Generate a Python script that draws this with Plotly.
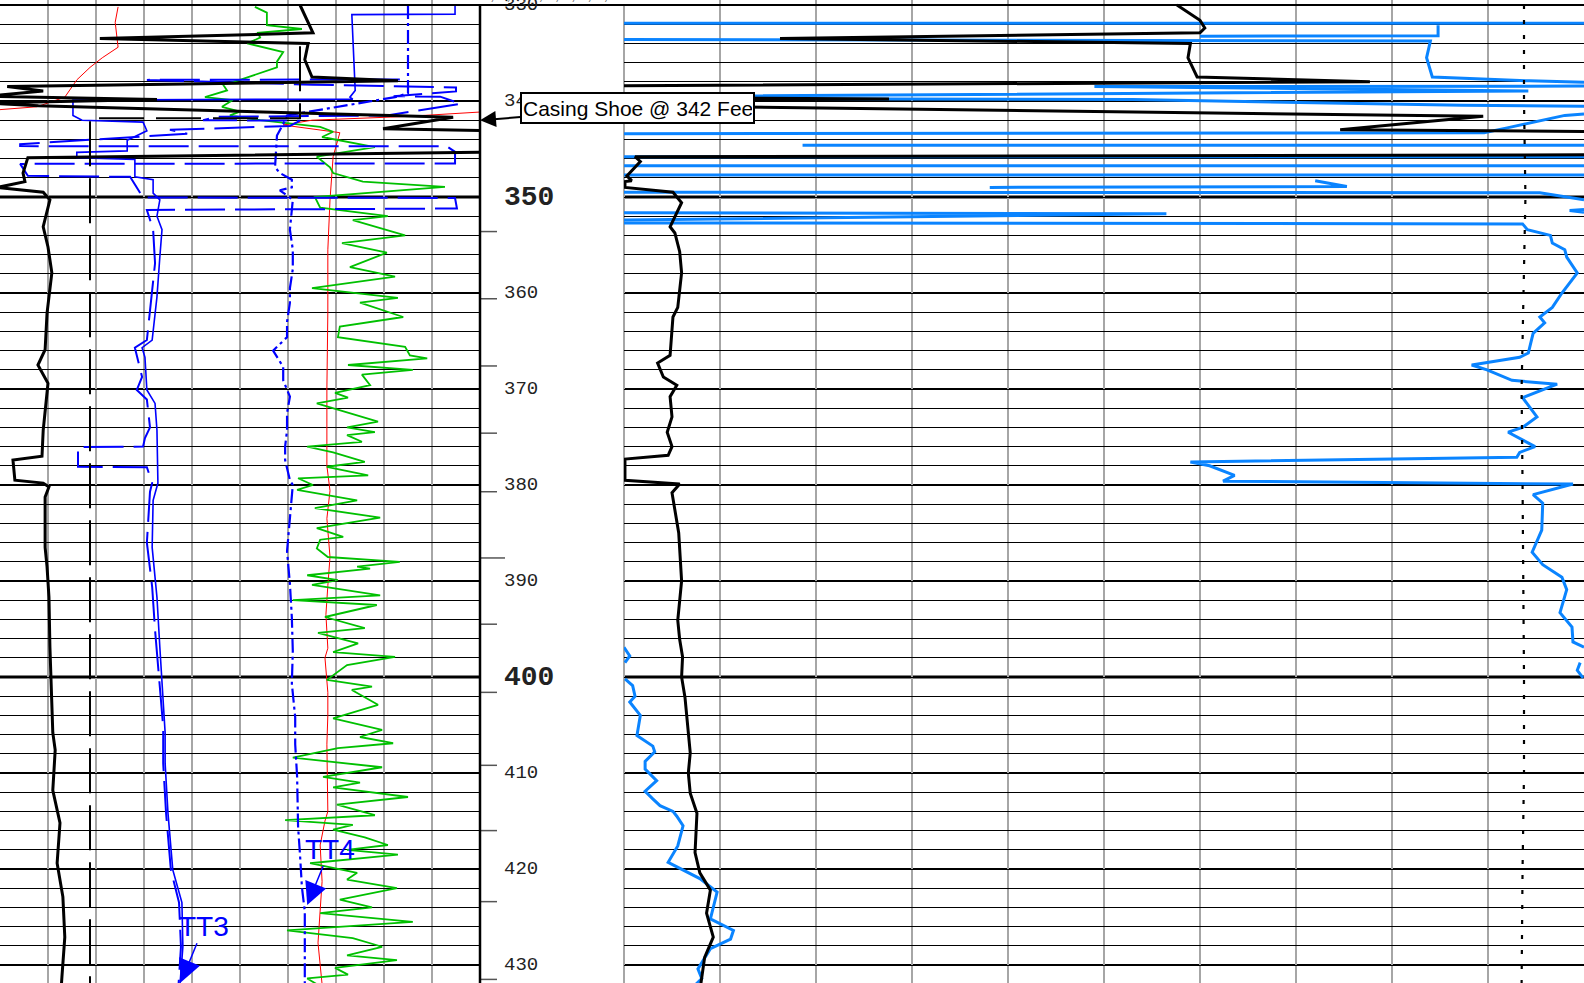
import plotly.graph_objects as go

# ---------------- depth track ----------------
DEPTH_LABELS = [330, 340, 350, 360, 370, 380, 390, 400, 410, 420, 430]
MAJOR_LABELS = [350, 400]
DEPTH_TICKS = [353.6, 360.6, 367.6, 374.6, 380.7, 387.6, 394.5, 401.6, 409.2, 416.0, 423.4, 431.5]
LONG_TICK = 387.6
CASING_SHOE_DEPTH = 342

# ---------------- left track (values in track divisions 0-10) ----------------
CAL_D = [330.0, 332.9, 333.5, 334.0, 335.7, 337.5, 337.9, 338.5, 338.96, 339.5, 339.85, 340.2, 340.5,
         341.7, 342.9, 343.1, 345.3, 345.9, 347.5, 348.4, 349.0, 349.5, 350.3, 353.1, 355.2, 357.9,
         362.1, 365.9, 367.5, 369.4, 374.3, 377.0, 377.4, 379.5, 379.8, 380.2, 381.25, 386.5, 388.5,
         391.7, 396.9, 402.1, 405.8, 407.6, 411.8, 415.2, 419.4, 422.9, 427.1, 431.25, 432.0]
CAL_V = [6.25, 6.52, 2.08, 6.42, 6.35, 6.5, 8.29, 0.15, 0.9, -0.3, 3.27, -0.3, 0.8,
         9.44, 7.98, 10.5, 10.5, 0.58, 0.48, 0.52, -0.05, 0.9, 1.04, 0.9, 1.0, 1.08,
         0.98, 0.94, 0.79, 1.0, 0.9, 0.875, 0.27, 0.31, 0.9, 1.02, 0.94, 0.94, 0.98,
         1.02, 1.04, 1.08, 1.1, 1.15, 1.1, 1.25, 1.19, 1.31, 1.35, 1.29, 1.28]

BIT_D = [334.3, 341.8, 341.8, 432.0]
BIT_V = [6.25, 6.25, 1.875, 1.875]

RED_D = [330.2, 331.8, 334.4, 335.5, 336.5, 337.8, 339.6, 340.6, 340.9, None,
         341.15, 341.6, 342.0, 342.5, 343.3, 345.8, 350.3, 355.5, 362.0, 370.0, 378.0, 380.6,
         383.5, 384.5, 387.5, 390.5, 393.5, 397.0, 398.0, 401.6, 404.0, 407.0, 411.5, 414.0,
         415.0, 417.5, 421.3, 424.0, 427.7, 432.0]
RED_V = [2.46, 2.40, 2.46, 2.13, 1.875, 1.6, 1.35, 0.77, 0.0, None,
         10.0, 8.5, 6.5, 5.9, 7.08, 6.94, 6.875, 6.83, 6.83, 6.81, 6.81, 6.875,
         6.81, 6.83, 6.875, 6.83, 6.79, 6.83, 6.77, 6.83, 6.83, 6.81, 6.83, 6.83,
         6.77, 6.67, 6.71, 6.67, 6.625, 6.71]

GR_D = [330.2, 330.8, 332.1, 332.5, 332.9, 333.4, 334.0, 334.9, 335.9, 336.5, 337.8, 338.3, 338.9,
        339.6, 339.9, 340.6, 341.1, 341.5, 342.0, 342.7, 343.2, 343.75, 344.8, 345.8, 346.9, 347.5,
        348.4, 348.95, 350.0, 351.1, 352.0, 352.4, 354.0, 354.8, 355.8, 357.3, 358.3, 359.5, 360.5,
        361.0, 362.5, 363.5, 364.6, 365.6, 366.5, 366.8, 367.5, 368.0, 368.5, 369.6, 370.4, 370.9,
        371.5, 373.4, 374.0, 374.5, 374.8, 375.5, 376.0, 376.6, 377.6, 378.1, 379.0, 379.3, 380.0,
        380.5, 381.6, 382.4, 383.4, 384.5, 385.4, 385.7, 386.6, 387.5, 388.0, 388.5, 388.7, 389.4,
        389.9, 390.4, 391.5, 392.0, 392.5, 393.75, 394.9, 395.4, 396.5, 397.4, 397.9, 398.75, 400.3,
        401.0, 401.35, 402.9, 404.3, 405.5, 406.25, 406.9, 407.4, 408.4, 409.4, 410.4, 411.0, 411.5,
        412.5, 413.3, 414.4, 414.9, 415.4, 415.9, 416.7, 417.5, 418.0, 418.5, 419.4, 420.4, 421.1,
        422.0, 423.2, 424.0, 424.6, 425.5, 426.4, 427.2, 428.1, 429.0, 429.5, 430.3, 431.0, 431.4, 432.0]
GR_V = [5.31, 5.56, 5.56, 6.29, 5.375, 5.42, 5.15, 5.9, 5.77, 5.77, 5.0, 4.65, 4.73,
        4.27, 4.85, 4.625, 5.0, 4.79, 5.42, 6.67, 6.94, 6.71, 7.81, 6.6, 6.875, 6.94,
        7.56, 9.27, 6.56, 6.67, 8.08, 7.35, 8.44, 7.125, 8.06, 7.29, 8.23, 6.5, 8.29,
        7.5, 8.4, 7.08, 7.04, 8.44, 8.54, 8.9, 7.25, 8.6, 7.54, 7.71, 6.98, 7.25,
        6.6, 7.875, 7.23, 7.81, 7.23, 7.54, 6.4, 6.94, 7.6, 6.81, 7.67, 6.21, 6.52,
        6.19, 7.44, 6.56, 7.92, 6.6, 7.15, 6.67, 6.6, 6.83, 8.33, 7.44, 7.71, 6.4,
        7.04, 6.5, 7.92, 6.1, 7.85, 6.77, 7.6, 6.625, 7.46, 6.94, 8.23, 7.23, 6.81,
        7.75, 7.33, 7.875, 6.94, 7.96, 7.5, 8.19, 7.04, 6.1, 7.96, 6.73, 7.5, 6.94,
        8.5, 7.02, 7.81, 5.94, 7.35, 6.94, 7.6, 8.08, 7.23, 8.29, 6.46, 7.44, 7.23,
        8.27, 7.08, 7.75, 6.67, 8.6, 5.98, 7.35, 7.96, 7.23, 8.27, 6.98, 7.25, 6.4, 6.6]

TT3_D = [330.0, 330.95, 331.0, 338.9, 339.6, 339.8, 339.9, 341.5, 342.0, 342.2, 343.1, 344.1, 345.2,
         345.35, 345.9, 346.1, 347.9, 348.2, 349.6, 350.3, 352.0, 353.4, 356.25, 360.4, 364.9, 365.7,
         366.7, 370.1, 371.5, 374.3, 379.8, 381.6, 386.5, 391.7, 396.9, 402.1, 405.8, 409.0, 414.2,
         420.1, 423.5, 428.1, 432.0]
TT3_V = [9.48, 9.48, 7.33, 7.4, 7.29, 7.35, 1.52, 1.52, 1.71, 2.98, 3.06, 2.65, 2.65,
         1.6, 1.6, 2.81, 2.81, 3.19, 3.19, 3.33, 3.27, 3.375, 3.33, 3.27, 3.17, 2.96,
         3.02, 3.06, 3.23, 3.27, 3.29, 3.19, 3.17, 3.27, 3.33, 3.4, 3.44, 3.44, 3.5,
         3.6, 3.79, 3.81, 3.75]

TT3B_D = [337.75, 337.8, 338.3, 338.6, 339.0, 339.5, 339.55, 340.3, 341.5, 341.65, 342.0, 342.05,
          342.6, 343.0, 343.4, 344.5, 344.7, 344.72, 345.3, 346.5, 346.55, 347.8, 347.9, 349.5,
          350.05, 350.1, 351.2, 351.35, 352.5, 353.4, 356.9, 362.1, 364.9, 365.7, 368.75, 370.1,
          371.1, 374.0, 375.1, 376.0, 376.05, 378.1, 378.15, 379.8, 380.7, 386.0, 390.6, 395.1,
          400.3, 405.2, 409.0, 414.2, 420.1, 423.5, 428.1, 432.0]
TT3B_V = [8.33, 3.06, 6.52, 9.5, 9.5, 8.2, 9.17, 9.6, 8.06, 4.52, 4.23, 6.25,
          6.04, 3.54, 3.9, 0.42, 0.42, 9.31, 9.48, 9.48, 0.42, 0.58, 2.71, 2.92,
          2.98, 9.48, 9.52, 3.06, 3.125, 3.19, 3.23, 3.125, 3.06, 2.81, 2.96, 2.85,
          3.06, 3.125, 3.02, 2.98, 1.625, 1.625, 3.06, 3.17, 3.125, 3.06, 3.17, 3.23,
          3.31, 3.4, 3.4, 3.46, 3.56, 3.73, 3.77, 3.72]

TT4_D = [330.0, 339.2, 339.6, 341.5, 342.4, 343.6, 346.9, 347.5, 348.2, 349.0, 349.3, 350.3,
         353.4, 355.5, 357.5, 359.5, 361.0, 363.0, 364.6, 366.0, 367.7, 369.1, 370.8, 372.5,
         374.3, 376.0, 377.4, 379.5, 380.0, 383.4, 386.9, 390.3, 393.8, 397.3, 400.7, 404.2,
         407.0, 410.4, 415.6, 418.5, 421.9, 424.4, 427.1, 430.6, 432.0]
TT4_V = [8.5, 8.5, 8.23, 5.98, 5.9, 5.77, 5.73, 5.83, 6.08, 6.08, 5.83, 6.1,
         6.04, 6.1, 6.1, 6.04, 6.04, 5.98, 5.98, 5.69, 5.9, 5.9, 6.04, 5.98,
         5.98, 5.94, 5.94, 6.04, 6.1, 6.04, 5.98, 6.04, 6.08, 6.1, 6.08, 6.15,
         6.15, 6.19, 6.21, 6.25, 6.29, 6.35, 6.35, 6.35, 6.35]

# ---------------- right track (values in track divisions 0-10) ----------------
RCAL_D = [330.0, 331.6, 332.4, 332.9, 333.5, 334.0, 335.5, 337.5, 338.0, 338.4, 339.0, 339.6, 339.8,
          340.0, 340.5, 341.6, 343.0, 343.2, 345.6, 345.8, 346.3, 347.8, 348.3, 348.4, 349.0, 349.5,
          350.6, 353.1, 353.75, 355.7, 357.9, 361.5, 362.5, 364.2, 366.5, 367.3, 368.75, 369.6,
          370.8, 372.9, 374.5, 376.0, 376.9, 377.3, 379.5, 379.9, 380.8, 385.0, 390.0, 394.1,
          396.1, 397.9, 400.0, 402.1, 404.5, 407.9, 410.0, 412.1, 414.2, 418.3, 420.4, 422.2,
          424.6, 427.1, 429.2, 431.6, 432.0]
RCAL_V = [5.76, 6.0, 6.05, 6.0, 1.625, 5.9, 5.875, 5.97, 7.77, 0.02, -0.5, -0.5, 2.76,
          -0.5, 0.2, 8.95, 7.46, 10.5, 10.5, 0.115, 0.17, 0.03, 0.08, 0.01, 0.01, 0.51,
          0.6, 0.48, 0.53, 0.58, 0.6, 0.56, 0.51, 0.5, 0.48, 0.35, 0.41, 0.55,
          0.48, 0.5, 0.45, 0.5, 0.46, 0.01, 0.01, 0.58, 0.5, 0.57, 0.6, 0.56,
          0.58, 0.61, 0.6, 0.635, 0.66, 0.69, 0.67, 0.69, 0.76, 0.74, 0.79, 0.9,
          0.86, 0.93, 0.84, 0.81, 0.8]

RES_D = [331.9, 331.9, None,
         332.1, 333.2, 333.25, None,
         333.6, 333.75, 335.5, 337.5, 337.9, 338.05, None,
         338.45, 338.5, 338.95, 339.55, None,
         339.75, 339.85, 340.45, 340.55, None,
         341.35, 341.5, 342.8, 343.3, 343.4, None,
         344.6, 344.6, None,
         345.8, 345.8, None,
         346.75, 346.75, None,
         347.7, 347.7, None,
         348.3, 348.9, 349.0, None,
         349.5, 349.55, 350.3, None,
         351.3, 351.4, 351.6, None,
         351.65, 351.75, 352.4, None,
         352.7, 352.8, 353.4, 354.0, 354.8, 355.5, 356.25, 357.9, 360.0, 361.5, 362.5, 363.1, 364.2,
         366.25, 366.7, 367.5, 368.0, 369.1, 369.5, 370.1, 370.9, 372.9, 374.0, 374.5, 376.0, 376.6,
         377.1, 377.6, 378.0, 379.0, 379.6, 379.9, 381.0, 381.9, 384.7, 387.0, 388.3, 389.6, 390.9,
         393.3, 394.8, 396.35, 396.9, None,
         396.9, 397.8, 398.5, None,
         398.5, 399.3, 400.1, None,
         400.2, 400.9, 402.0, 402.6, 404.0, 406.1, 407.2, 407.8, 408.8, 409.6, 410.8, 411.9, 412.7,
         413.4, 414.0, 414.5, 415.5, 417.6, 419.3, 421.0, 422.4, 425.2, 426.4, 427.3, 428.3, 429.7,
         430.4, 431.4, 432.0]
RES_V = [0.0, 10.0, None,
         8.48, 8.48, 6.0, None,
         0.0, 8.4, 8.36, 8.42, 9.43, 10.0, None,
         10.0, 4.9, 9.42, 0.0, None,
         0.0, 5.3, 8.73, 10.0, None,
         10.0, 9.8, 9.2, 8.96, 0.0, None,
         1.86, 10.0, None,
         0.0, 10.0, None,
         0.0, 10.0, None,
         0.0, 10.0, None,
         7.2, 7.53, 3.81, None,
         0.0, 9.54, 10.0, None,
         10.0, 9.85, 10.0, None,
         0.0, 5.65, 0.0, None,
         0.0, 9.36, 9.41, 9.65, 9.67, 9.8, 9.82, 9.93, 9.77, 9.67, 9.54, 9.59, 9.47,
         9.42, 9.33, 8.83, 8.99, 9.25, 9.72, 9.57, 9.36, 9.51, 9.36, 9.21, 9.49, 9.33,
         9.3, 5.9, 6.1, 6.36, 6.24, 9.885, 9.47, 9.57, 9.56, 9.46, 9.57, 9.77, 9.82,
         9.75, 9.875, 9.885, 10.0, None,
         0.0, 0.06, 0.01, None,
         9.96, 9.93, 9.99, None,
         0.01, 0.09, 0.115, 0.06, 0.17, 0.135, 0.30, 0.32, 0.22, 0.22, 0.34, 0.22, 0.30,
         0.375, 0.51, 0.55, 0.615, 0.56, 0.46, 0.79, 0.97, 0.9, 1.14, 1.11, 0.9, 0.81,
         0.77, 0.81, 0.75]

REF_D = [330.0, 340.0, 350.0, 360.0, 370.0, 380.0, 390.0, 400.0, 410.0, 420.0, 432.0]
REF_V = [9.375, 9.375, 9.39, 9.37, 9.35, 9.36, 9.37, 9.375, 9.375, 9.36, 9.35]

# ---------------- figure ----------------
W, H = 1584, 983
LEFT_END = 480 / W
RIGHT_START = 624 / W
Y_RANGE = [431.875, 329.479]

fig = go.Figure()

def left(d, v, color, width, dash="solid"):
    fig.add_trace(go.Scatter(x=v, y=d, mode="lines", xaxis="x", yaxis="y",
                             line=dict(color=color, width=width, dash=dash), hoverinfo="skip"))

def right(d, v, color, width, dash="solid"):
    fig.add_trace(go.Scatter(x=v, y=d, mode="lines", xaxis="x2", yaxis="y2",
                             line=dict(color=color, width=width, dash=dash), hoverinfo="skip"))

left(RED_D, RED_V, "#ff0000", 1)
left(GR_D, GR_V, "#00c000", 1.8)
left(TT4_D, TT4_V, "#0000ff", 2.2, "14px,4px,3px,4px")
left(TT3B_D, TT3B_V, "#0000ff", 2, "40px,10px")
left(TT3_D, TT3_V, "#0000ff", 1.6)
left(BIT_D, BIT_V, "#000000", 2, "45px,12px")
left(CAL_D, CAL_V, "#000000", 3)

right(RES_D, RES_V, "#0a84ff", 3)
right(RCAL_D, RCAL_V, "#000000", 3)
right(REF_D, REF_V, "#000000", 2.2, "4px,11px")

axis_x = dict(range=[0, 10], dtick=1, tick0=0, showgrid=True, gridcolor="#a6a6a6", gridwidth=2,
              zeroline=False, showticklabels=False, ticks="", showline=False, fixedrange=True)
axis_y = dict(range=Y_RANGE, dtick=2, tick0=0, showgrid=True, gridcolor="#000000", gridwidth=1,
              zeroline=False, showticklabels=False, ticks="", showline=False, fixedrange=True)

fig.update_layout(
    width=W, height=H, margin=dict(l=0, r=0, t=0, b=0, pad=0),
    paper_bgcolor="white", plot_bgcolor="rgba(0,0,0,0)", showlegend=False,
    xaxis=dict(domain=[0, LEFT_END], anchor="y", **axis_x),
    yaxis=dict(anchor="x", **axis_y),
    xaxis2=dict(domain=[RIGHT_START, 1], anchor="y2", **axis_x),
    yaxis2=dict(anchor="x2", matches="y", **axis_y),
)

shapes = []
# heavier depth lines every 10 ft in both tracks
for d in range(330, 440, 10):
    w = 3 if d in MAJOR_LABELS else 2
    for xr, yr in (("x domain", "y"), ("x2 domain", "y2")):
        shapes.append(dict(type="line", xref=xr, yref=yr, x0=0, x1=1, y0=d, y1=d,
                           line=dict(color="black", width=w), layer="below"))
# depth track ticks
for d in DEPTH_TICKS:
    x1 = 505 / W if d == LONG_TICK else 497 / W
    shapes.append(dict(type="line", xref="paper", yref="y", x0=LEFT_END, x1=x1, y0=d, y1=d,
                       line=dict(color="#555555", width=1.5), layer="above"))
# track borders
shapes.append(dict(type="line", xref="paper", yref="y", x0=RIGHT_START, x1=RIGHT_START,
                   y0=330, y1=Y_RANGE[0], line=dict(color="#a6a6a6", width=2), layer="below"))
shapes.append(dict(type="line", xref="paper", yref="y", x0=LEFT_END, x1=LEFT_END,
                   y0=330, y1=Y_RANGE[0], line=dict(color="black", width=2.5), layer="above"))
shapes.append(dict(type="line", xref="paper", yref="y", x0=0, x1=1, y0=330, y1=330,
                   line=dict(color="black", width=2), layer="above"))
fig.update_layout(shapes=shapes)

ann = []
for d in DEPTH_LABELS:
    major = d in MAJOR_LABELS
    ann.append(dict(xref="paper", yref="y", x=502 / W, y=d, xanchor="left", yanchor="middle",
                    text=f"<b>{d}</b>" if major else str(d), showarrow=False,
                    font=dict(family="Liberation Mono, DejaVu Sans Mono, monospace",
                              size=28 if major else 19, color="#222222")))
# hatch at top of depth track
ann.append(dict(xref="paper", yref="paper", x=550 / W, y=1, xanchor="center", yanchor="middle",
                text="/\u00a0\u00a0/\u00a0\u00a0/\u00a0\u00a0/\u00a0\u00a0/\u00a0\u00a0/\u00a0\u00a0/\u00a0\u00a0/",
                showarrow=False, font=dict(family="Liberation Mono", size=9, color="#666666")))
# casing shoe marker
ann.append(dict(xref="paper", yref="y", x=LEFT_END, y=CASING_SHOE_DEPTH,
                text="Casing Shoe @ 342 Feet", align="left", width=229, height=26,
                showarrow=True, ax=157, ay=-12, arrowhead=2, arrowsize=1.6, arrowwidth=2,
                arrowcolor="black", standoff=0,
                bgcolor="white", bordercolor="black", borderwidth=2, borderpad=1,
                font=dict(family="Liberation Sans, Arial, sans-serif", size=21, color="black")))
# tool markers
for name, xv, yv in (("TT3", 3.77, 431.8), ("TT4", 6.4, 423.75)):
    ann.append(dict(xref="x", yref="y", x=xv, y=yv, text=name, showarrow=True,
                    ax=23, ay=-56, arrowhead=2, arrowsize=3, arrowwidth=1.5,
                    arrowcolor="#0000ff", standoff=0,
                    font=dict(family="Liberation Sans Narrow, Arial Narrow, sans-serif",
                              size=28, color="#0000ff")))
fig.update_layout(annotations=ann)

fig.write_html("out.html", config={"displayModeBar": False},
               post_script="document.body.style.margin='0';document.body.style.overflow='hidden';")
